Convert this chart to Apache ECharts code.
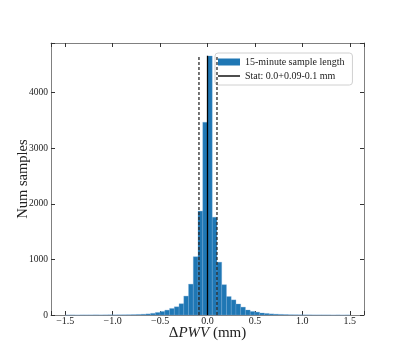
<!DOCTYPE html>
<html>
<head>
<meta charset="utf-8">
<script src="https://cdn.jsdelivr.net/npm/echarts@6/dist/echarts.min.js"></script>
<style>
  html, body { margin: 0; padding: 0; background: #fff; }
  #hist { width: 405px; height: 354px; }
</style>
</head>
<body>
<div id="hist"></div>
<script>
// histogram bins: 60 bins of 0.05 mm from -1.5 to 1.5
var binStart = -1.5;
var binWidth = 0.05;
var counts = [
  0, 1, 0, 1, 1, 1, 2, 1, 2, 3,
  2, 3, 4, 5, 7, 10, 14, 20, 30, 46,
  64, 88, 118, 148, 203, 340, 555, 1048, 1868, 3466,
  4657, 1758, 950, 545, 332, 272, 198, 142, 90, 64,
  52, 36, 28, 20, 15, 11, 8, 5, 4, 3,
  2, 2, 1, 1, 1, 1, 0, 1, 0, 1
];
// stat lines: median and lower/upper bounds
var statMedian = 0.0;
var statLower = -0.09;
var statUpper = 0.1;
var statTop = 4660;
var xTicks = [-1.5, -1.0, -0.5, 0.0, 0.5, 1.0, 1.5];
var yTicks = [0, 1000, 2000, 3000, 4000];

var histName = '15-minute sample length';
var statName = 'Stat: 0.0+0.09-0.1 mm';

var binData = counts.map(function (c, i) {
  var x0 = binStart + i * binWidth;
  return [x0, x0 + binWidth, c];
});

var font = 'Liberation Serif';
var spine = '#808080';

function xFmt(v) {
  for (var i = 0; i < xTicks.length; i++) {
    if (Math.abs(v - xTicks[i]) < 1e-6) return xTicks[i].toFixed(1).replace('-', '\u2212');
  }
  return '';
}
function yFmt(v) {
  return yTicks.indexOf(v) >= 0 ? String(v) : '';
}

var tickStyle = { inside: true, length: 4, lineStyle: { color: '#333' } };

var myChart = echarts.init(document.getElementById('hist'));
var option = {
  animation: false,
  grid: { left: 51, right: 41, top: 43, bottom: 39, outerBoundsMode: 'none' },
  legend: {
    data: [
      { name: histName, icon: 'rect' },
      { name: statName, icon: 'path://M0,0H22V1.4H0Z', itemStyle: { color: '#000' } }
    ],
    orient: 'vertical',
    left: 215,
    top: 53,
    itemWidth: 22,
    itemHeight: 7,
    itemGap: 2,
    padding: [3, 8, 3, 3],
    borderColor: '#d0d0d0',
    borderWidth: 1,
    borderRadius: 3,
    backgroundColor: 'rgba(255,255,255,0.85)',
    textStyle: { fontFamily: font, fontSize: 10, color: '#222', lineHeight: 12 }
  },
  xAxis: [{
    type: 'value',
    min: -1.65,
    max: 1.65,
    name: '{a|\u0394}{i|PWV}{a| (mm)}',
    nameLocation: 'middle',
    nameGap: 11,
    nameMoveOverlap: false,
    nameTextStyle: {
      verticalAlign: 'top',
      rich: {
        a: { fontFamily: font, fontSize: 15, color: '#222' },
        i: { fontFamily: font, fontSize: 15, fontStyle: 'italic', color: '#222' }
      }
    },
    splitLine: { show: false },
    axisLine: { onZero: false, lineStyle: { color: spine } },
    axisTick: tickStyle,
    axisLabel: { formatter: xFmt, fontFamily: font, fontSize: 10, color: '#222', margin: 1 }
  }, {
    type: 'value',
    position: 'top',
    min: -1.65,
    max: 1.65,
    splitLine: { show: false },
    axisLine: { onZero: false, lineStyle: { color: spine } },
    axisTick: tickStyle,
    axisLabel: { show: false }
  }],
  yAxis: [{
    type: 'value',
    min: 0,
    max: 4890,
    name: 'Num samples',
    nameLocation: 'middle',
    nameGap: 20,
    nameMoveOverlap: false,
    nameTextStyle: { fontFamily: font, fontSize: 14.5, color: '#222' },
    splitLine: { show: false },
    axisLine: { show: true, onZero: false, lineStyle: { color: spine } },
    axisTick: { show: true, inside: true, length: 4, lineStyle: { color: '#333' } },
    axisLabel: { formatter: yFmt, fontFamily: font, fontSize: 9.5, color: '#222', margin: 3 }
  }, {
    type: 'value',
    position: 'right',
    min: 0,
    max: 4890,
    splitLine: { show: false },
    axisLine: { show: true, onZero: false, lineStyle: { color: spine } },
    axisTick: { show: true, inside: true, length: 4, lineStyle: { color: '#333' } },
    axisLabel: { show: false }
  }],
  series: [{
    name: histName,
    type: 'custom',
    itemStyle: { color: '#1f77b4' },
    encode: { x: [0, 1], y: 2 },
    data: binData,
    renderItem: function (params, api) {
      var p0 = api.coord([api.value(0), api.value(2)]);
      var p1 = api.coord([api.value(1), 0]);
      return {
        type: 'rect',
        shape: { x: p0[0], y: p0[1], width: p1[0] - p0[0], height: p1[1] - p0[1] },
        style: { fill: '#1f77b4', stroke: 'rgba(120,170,215,0.6)', lineWidth: 0.5 }
      };
    }
  }, {
    name: statName,
    type: 'line',
    symbol: 'none',
    data: [[statMedian, 0], [statMedian, statTop]],
    lineStyle: { color: '#000', width: 1.3 },
    itemStyle: { color: '#000' },
    z: 5
  }, {
    name: 'lower',
    type: 'line',
    symbol: 'none',
    data: [[statLower, 0], [statLower, statTop]],
    lineStyle: { color: '#2a2a2a', width: 1.3, type: [3, 2] },
    z: 5
  }, {
    name: 'upper',
    type: 'line',
    symbol: 'none',
    data: [[statUpper, 0], [statUpper, statTop]],
    lineStyle: { color: '#2a2a2a', width: 1.3, type: [3, 2] },
    z: 5
  }]
};
myChart.setOption(option);
</script>
</body>
</html>
